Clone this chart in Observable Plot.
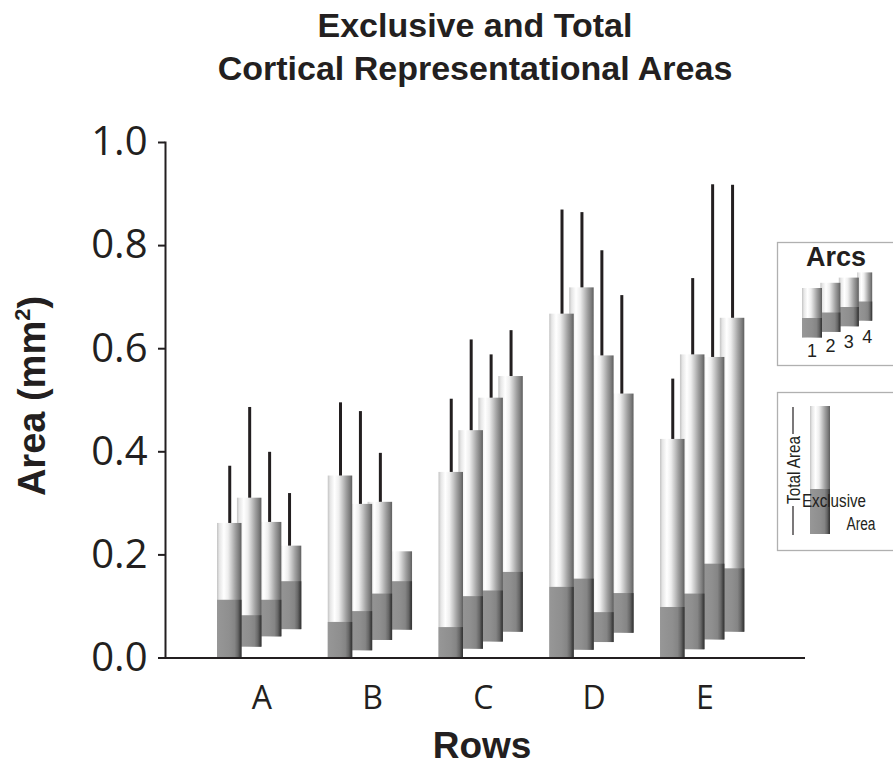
<!DOCTYPE html>
<html><head><meta charset="utf-8">
<script src="https://cdn.jsdelivr.net/npm/d3@7"></script>
<script src="https://cdn.jsdelivr.net/npm/@observablehq/plot@0.6"></script>
<style>
body{margin:0;background:#fff}
#chart{width:893px;height:766px;overflow:hidden;position:relative}
</style>
</head><body><div id="chart"></div>
<script>
// ---- data ----
const rows = ["A", "B", "C", "D", "E"];
const arcs = [1, 2, 3, 4];
// total area (top of each bar), per row, arcs 1..4
const totalArea = [
  [0.261, 0.310, 0.263, 0.217],
  [0.353, 0.298, 0.302, 0.206],
  [0.360, 0.441, 0.504, 0.546],
  [0.667, 0.718, 0.586, 0.512],
  [0.424, 0.588, 0.583, 0.659]
];
// exclusive area (top of dark segment)
const exclusiveArea = [
  [0.112, 0.082, 0.112, 0.148],
  [0.069, 0.090, 0.124, 0.148],
  [0.059, 0.119, 0.130, 0.166],
  [0.137, 0.153, 0.088, 0.125],
  [0.098, 0.124, 0.182, 0.173]
];
// upper end of error bar (null = none drawn)
const errorTop = [
  [0.372, 0.486, 0.399, 0.319],
  [0.495, 0.478, 0.397, null],
  [0.502, 0.617, 0.588, 0.635],
  [0.869, 0.864, 0.790, 0.703],
  [0.541, 0.736, 0.918, 0.917]
];
// bottom of each bar (staggered pseudo-3D baseline)
const barBase = [
  [0, 0.021, 0.041, 0.055],
  [0, 0.014, 0.034, 0.054],
  [0, 0.017, 0.031, 0.050],
  [0, 0.015, 0.030, 0.048],
  [0, 0.016, 0.035, 0.050]
];
const yTicks = [0, 0.2, 0.4, 0.6, 0.8, 1.0];

const data = [];
rows.forEach((r, g) => arcs.forEach((a, i) => data.push({
  row: r, g, arc: a, i,
  total: totalArea[g][i], excl: exclusiveArea[g][i],
  err: errorTop[g][i], base: barBase[g][i]
})));

// ---- layout ----
const W = 893, H = 766;
const mL = 165, mR = 88, mT = 142, mB = 108.5;
const xDomain = [-0.4695, 5.309];
const pxPerUnit = (W - mL - mR) / (xDomain[1] - xDomain[0]);
const arcStep = 0.18, barW = 0.221, labelOffset = 0.4;
const xl = d => d.g + d.i * arcStep;
const xr = d => xl(d) + barW;
const xc = d => xl(d) + barW / 2;
const ink = "#231f20";

const barMarks = arcs.slice().reverse().flatMap(a => {
  const sub = data.filter(d => d.arc === a);
  return [
    Plot.rect(sub, {x1: xl, x2: xr, y1: "base", y2: "total", fill: "url(#gLight)"}),
    Plot.rect(sub, {x1: xl, x2: xr, y1: "base", y2: "excl", fill: "url(#gDark)"}),
    Plot.ruleX(sub.filter(d => d.err != null), {x: xc, y1: "total", y2: "err", stroke: ink, strokeWidth: 3})
  ];
});

const plot = Plot.plot({
  width: W, height: H,
  marginLeft: mL, marginRight: mR, marginTop: mT, marginBottom: mB,
  style: {fontFamily: "'Open Sans', sans-serif", color: ink, background: "white", overflow: "visible"},
  x: {domain: xDomain, label: null, axis: null},
  y: {domain: [0, 1], label: null, axis: null},
  marks: [
    ...barMarks,
    Plot.axisY(yTicks, {tickSize: 7, tickPadding: 11, strokeWidth: 2, fontSize: 40,
      tickFormat: d => d.toFixed(1), label: null}),
    Plot.frame({anchor: "left", stroke: ink, strokeWidth: 2}),
    Plot.ruleY([0], {x1: xDomain[0] - 7 / pxPerUnit, x2: xDomain[1], stroke: ink, strokeWidth: 2.2}),
    Plot.axisX(rows.map((r, g) => g + labelOffset), {tickSize: 0, tickPadding: 28, fontSize: 32,
      tickFormat: d => rows[Math.round(d - labelOffset)], label: null})
  ]
});

document.getElementById("chart").appendChild(plot);

const svg = d3.select(plot);
const defs = svg.insert("defs", ":first-child");
function grad(id, stops) {
  const g = defs.append("linearGradient").attr("id", id).attr("x1", "0").attr("x2", "1").attr("y1", "0").attr("y2", "0");
  stops.forEach(([o, c]) => g.append("stop").attr("offset", o).attr("stop-color", c));
}
grad("gLight", [[0, "#c2c2c2"], [0.1, "#e6e6e6"], [0.28, "#ffffff"], [0.45, "#eeeeee"], [0.6, "#c8c8c8"], [0.75, "#a0a0a0"], [0.9, "#7c7c7c"], [1, "#5e5e5e"]]);
grad("gDark", [[0, "#979797"], [0.5, "#8f8f8f"], [0.72, "#858585"], [0.86, "#666666"], [0.94, "#444444"], [1, "#333333"]]);

const sans = "'Liberation Sans', Arial, Helvetica, sans-serif";

// title
const title = svg.append("g").attr("font-family", sans).attr("font-weight", "bold")
  .attr("font-size", 34).attr("text-anchor", "middle").attr("fill", ink);
title.append("text").attr("x", 475).attr("y", 37).text("Exclusive and Total");
title.append("text").attr("x", 475).attr("y", 80).text("Cortical Representational Areas");

// axis titles
svg.append("text").attr("font-family", sans).attr("font-weight", "bold").attr("font-size", 37)
  .attr("text-anchor", "middle").attr("fill", ink).attr("x", 482).attr("y", 758).text("Rows");
const yt = svg.append("text").attr("font-family", sans).attr("font-weight", "bold").attr("font-size", 38)
  .attr("text-anchor", "middle").attr("fill", ink).attr("transform", "translate(45,396) rotate(-90)");
yt.append("tspan").text("Area (mm");
yt.append("tspan").attr("font-size", 22).attr("dy", -15).text("2");
yt.append("tspan").attr("dy", 15).text(")");

// legends
const lg = svg.append("g").attr("font-family", sans).attr("fill", ink);
lg.append("rect").attr("x", 777.5).attr("y", 242.5).attr("width", 140).attr("height", 123)
  .attr("fill", "white").attr("stroke", "#b0b0b0").attr("stroke-width", 1.3);
lg.append("rect").attr("x", 777.5).attr("y", 392.5).attr("width", 140).attr("height", 158)
  .attr("fill", "white").attr("stroke", "#b0b0b0").attr("stroke-width", 1.3);
lg.append("text").attr("x", 836).attr("y", 266).attr("font-size", 27).attr("font-weight", "bold")
  .attr("text-anchor", "middle").text("Arcs");
// small staggered bars (decorative key)
arcs.slice().reverse().forEach(a => {
  const i = a - 1;
  const x = 802 + i * 18.4, w = i === 3 ? 15 : 20;
  const top = 288 - i * 5.2, ex = 318 - i * 5.5, bot = 337.5 - i * 5.6;
  lg.append("rect").attr("x", x).attr("y", top).attr("width", w).attr("height", bot - top).attr("fill", "url(#gLight)");
  lg.append("rect").attr("x", x).attr("y", ex).attr("width", w).attr("height", bot - ex).attr("fill", "url(#gDark)");
  lg.append("text").attr("x", x + 10).attr("y", 357 - i * 4.6).attr("font-size", 18)
    .attr("text-anchor", "middle").text(String(a));
});
// total / exclusive key
lg.append("rect").attr("x", 810).attr("y", 406).attr("width", 20).attr("height", 128).attr("fill", "url(#gLight)");
lg.append("rect").attr("x", 810).attr("y", 489).attr("width", 20).attr("height", 45).attr("fill", "url(#gDark)");
lg.append("line").attr("x1", 793).attr("x2", 793).attr("y1", 407).attr("y2", 434).attr("stroke", ink).attr("stroke-width", 1.2);
lg.append("line").attr("x1", 793).attr("x2", 793).attr("y1", 506).attr("y2", 535).attr("stroke", ink).attr("stroke-width", 1.2);
lg.append("text").attr("transform", "translate(800,470) rotate(-90)").attr("font-size", 19)
  .attr("text-anchor", "middle").attr("textLength", 68).attr("lengthAdjust", "spacingAndGlyphs").text("Total Area");
lg.append("text").attr("x", 834).attr("y", 507).attr("font-size", 18)
  .attr("textLength", 64).attr("lengthAdjust", "spacingAndGlyphs").text("Exclusive");
lg.append("text").attr("x", 861).attr("y", 530).attr("font-size", 18).attr("text-anchor", "middle")
  .attr("textLength", 29).attr("lengthAdjust", "spacingAndGlyphs").text("Area");
</script>
</body></html>
